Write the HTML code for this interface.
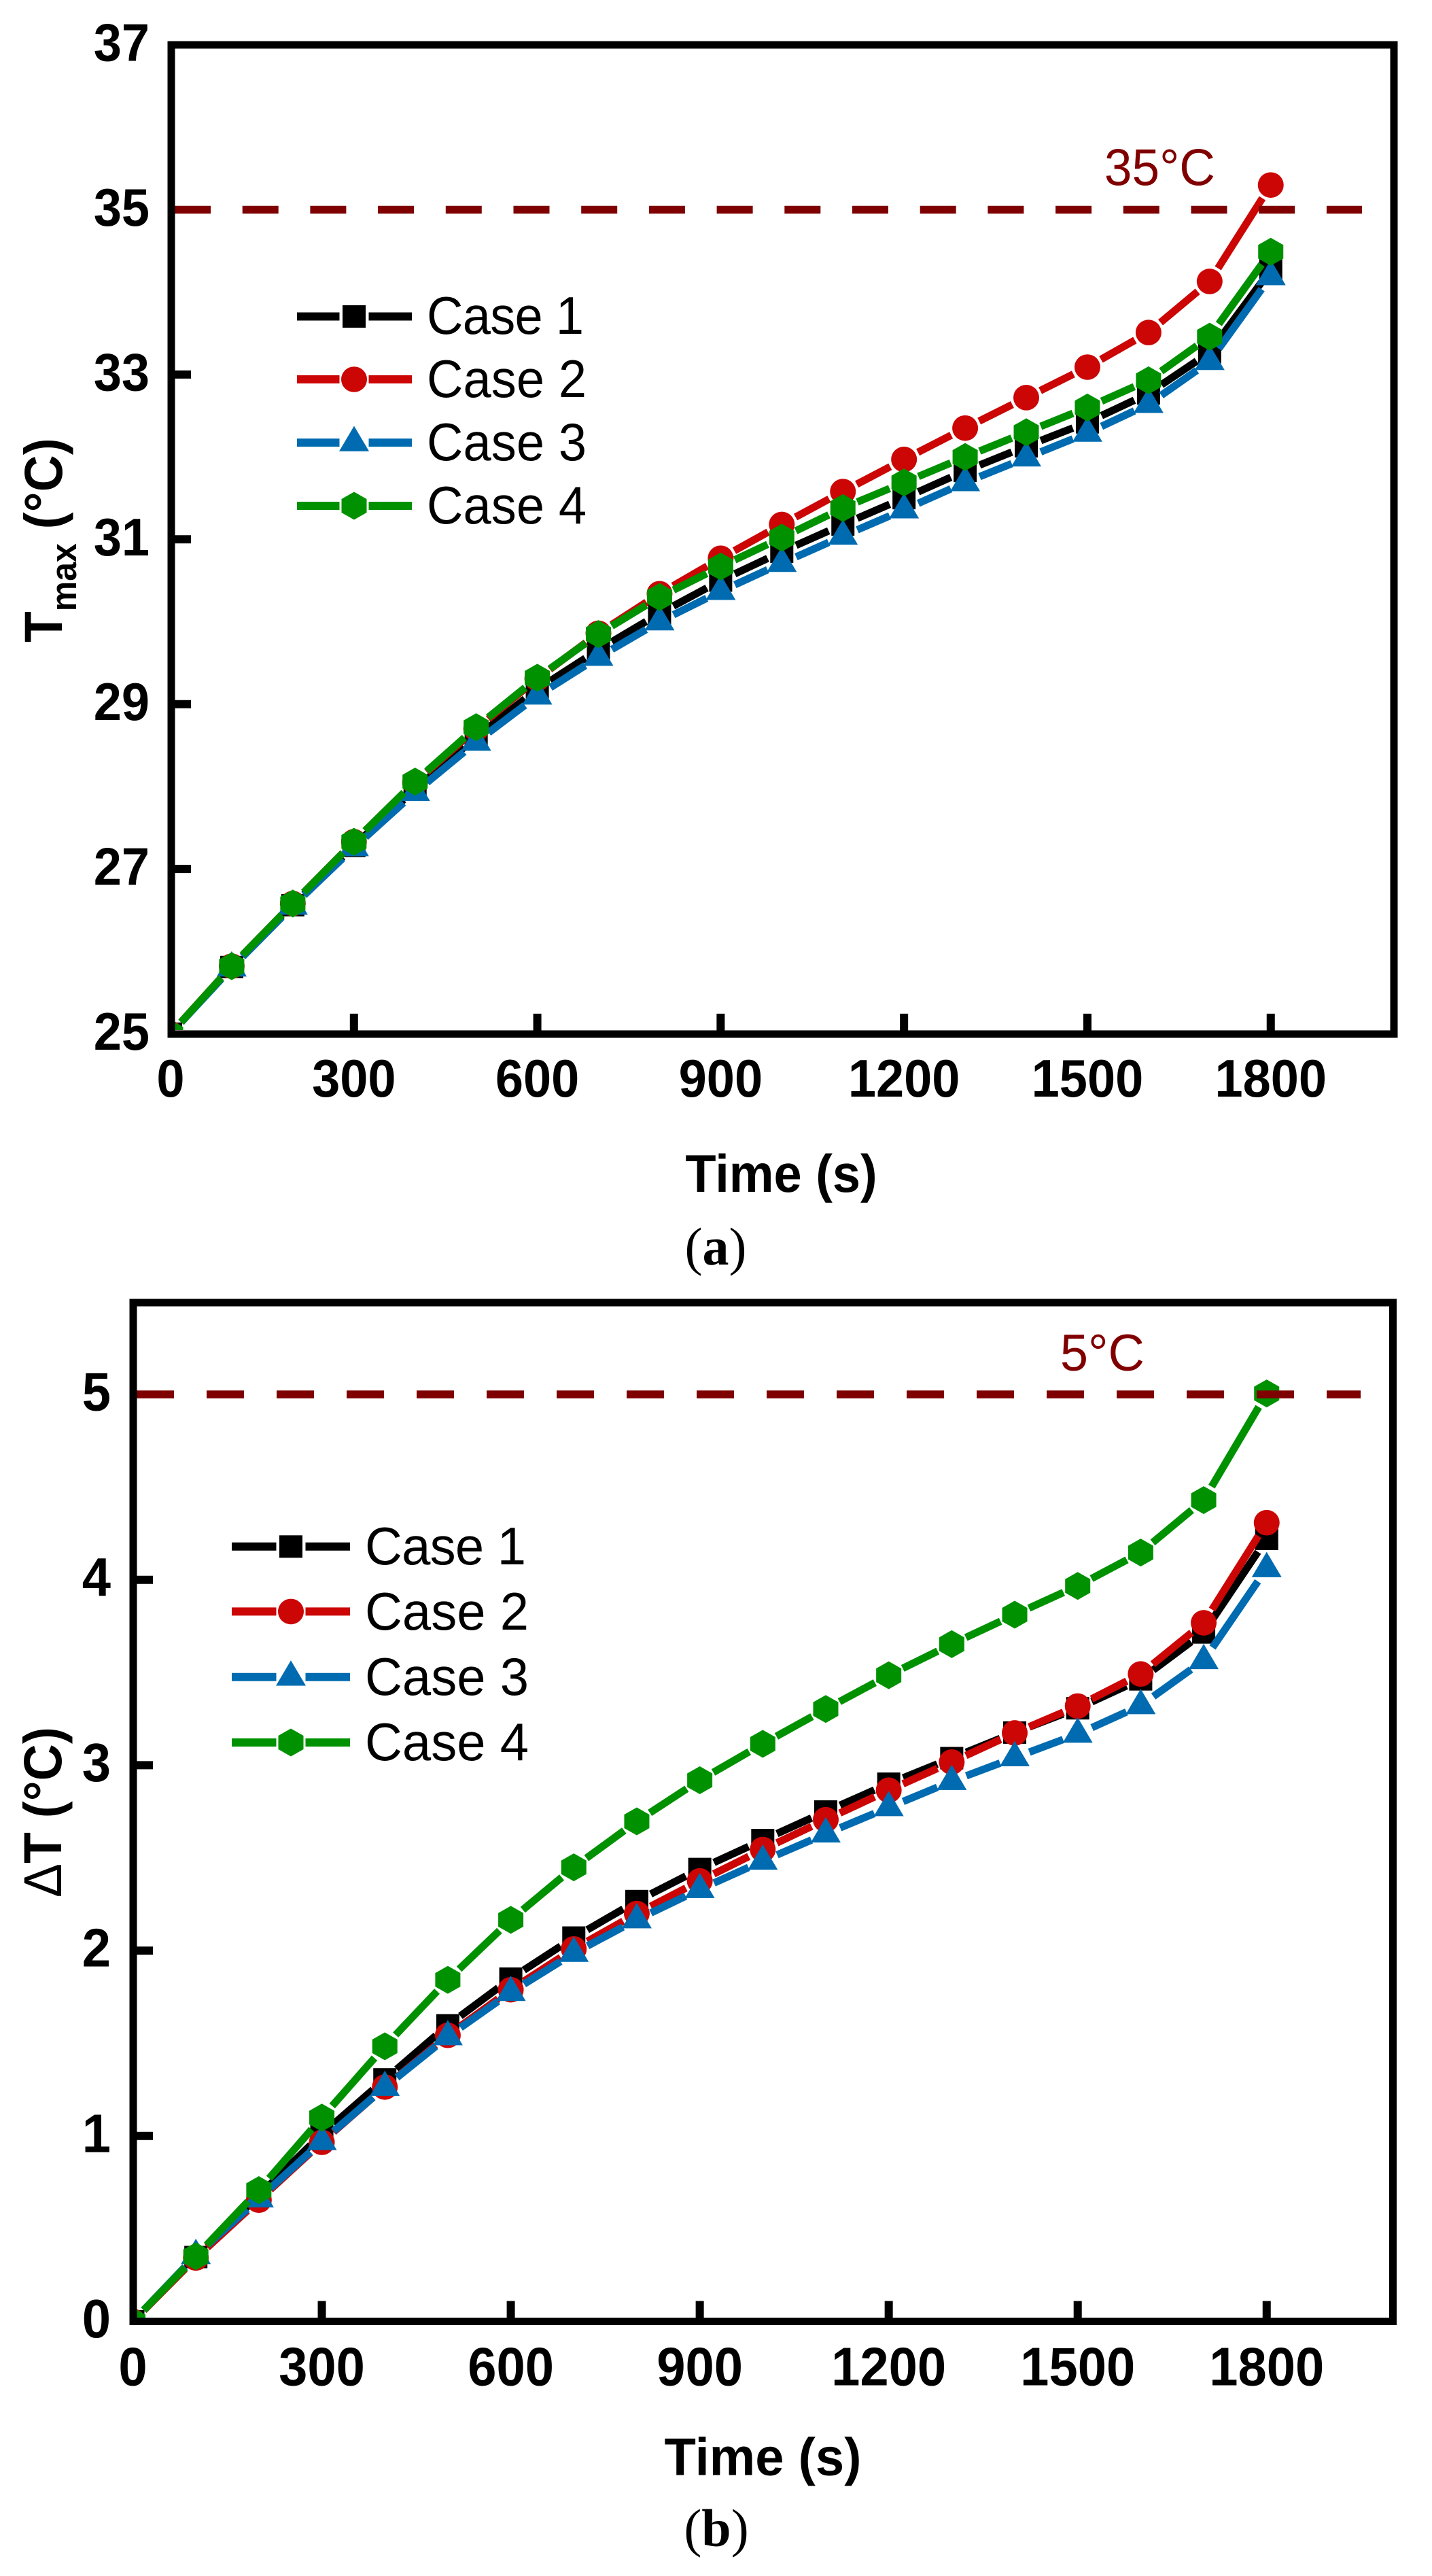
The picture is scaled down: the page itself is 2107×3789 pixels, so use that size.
<!DOCTYPE html>
<html lang="en">
<head>
<meta charset="utf-8">
<title>Tmax and delta T versus time for four cases</title>
<style>
html,body{margin:0;padding:0;background:#fff;}
svg{display:block;}
text{font-family:"Liberation Sans",Arial,sans-serif;fill:#000;}
.bold{font-weight:bold;}
.serif{font-family:"Liberation Serif","Times New Roman",serif;}
.limit{fill:#800000;}
</style>
</head>
<body>
<svg id="figure" xmlns="http://www.w3.org/2000/svg" width="2107" height="3789" viewBox="0 0 2107 3789">
  <rect x="0" y="0" width="2107" height="3789" fill="#ffffff"/>
  <defs>
    <clipPath id="clip-a"><rect x="257" y="72" width="1789" height="1443"/></clipPath>
    <clipPath id="clip-b"><rect x="201" y="1922" width="1843" height="1487"/></clipPath>
  </defs>

  <g id="chart-a"></g>
  <g id="chart-b"></g>

  <g>
    <text class="bold" font-size="74" text-anchor="middle" transform="translate(1149.5,1753) scale(1,1.05)">Time (s)</text>
    <text class="bold" font-size="75" transform="translate(91,945) rotate(-90) scale(1,1.05)">T<tspan font-size="50" dy="20">max</tspan><tspan dy="-20"> (°C)</tspan></text>
    <text class="limit" font-size="73" text-anchor="end" transform="translate(1788,272.6) scale(1,1.04)">35°C</text>
    <text class="serif" font-size="78" text-anchor="middle" x="1053" y="1860">(<tspan font-weight="bold">a</tspan>)</text>
    <g>
      <text font-size="74" textLength="231" transform="translate(628,491) scale(1,1.05)">Case 1</text>
      <text font-size="74" textLength="235" transform="translate(628,584) scale(1,1.05)">Case 2</text>
      <text font-size="74" textLength="235" transform="translate(628,677) scale(1,1.05)">Case 3</text>
      <text font-size="74" textLength="235" transform="translate(628,770) scale(1,1.05)">Case 4</text>
    </g>
  </g>

  <g>
    <text class="bold" font-size="76" text-anchor="middle" transform="translate(1122.5,3640.5) scale(1,1.03)">Time (s)</text>
    <text class="bold" font-size="75" transform="translate(90,2791) rotate(-90) scale(1,1.05)"><tspan font-weight="normal">Δ</tspan>T (°C)</text>
    <text class="limit" font-size="74" text-anchor="end" transform="translate(1684,2015.8) scale(1,1.03)">5°C</text>
    <text class="serif" font-size="78" text-anchor="middle" x="1054" y="3745">(<tspan font-weight="bold">b</tspan>)</text>
    <g>
      <text font-size="76" textLength="237" transform="translate(537,2301) scale(1,1.03)">Case 1</text>
      <text font-size="76" textLength="241" transform="translate(537,2397) scale(1,1.03)">Case 2</text>
      <text font-size="76" textLength="241" transform="translate(537,2493) scale(1,1.03)">Case 3</text>
      <text font-size="76" textLength="241" transform="translate(537,2589) scale(1,1.03)">Case 4</text>
    </g>
  </g>
</svg>

<script>
// ---- shared data ----
const times = [0,100,200,300,400,500,600,700,800,900,1000,1100,1200,1300,1400,1500,1600,1700,1800];
const seriesNames = ['case-1','case-2','case-3','case-4'];
const xTickValues = [300,600,900,1200,1500,1800];
const xTickLabels = ['0','300','600','900','1200','1500','1800'];

// ---- panel (a) Tmax, deg C ----
const tmaxCase1 = [25,25.81,26.56,27.28,27.97,28.60,29.18,29.66,30.10,30.50,30.85,31.18,31.50,31.83,32.13,32.42,32.77,33.27,34.27];
const tmaxCase2 = [25,25.82,26.58,27.33,28.05,28.70,29.31,29.86,30.34,30.77,31.18,31.58,31.97,32.35,32.72,33.09,33.51,34.13,35.30];
const tmaxCase3 = [25,25.80,26.55,27.26,27.93,28.54,29.10,29.57,30.00,30.37,30.71,31.04,31.36,31.69,31.99,32.29,32.64,33.16,34.19];
const tmaxCase4 = [25,25.82,26.58,27.33,28.06,28.72,29.32,29.85,30.30,30.67,31.02,31.38,31.69,32.00,32.30,32.60,32.93,33.46,34.49];
const tmaxTickMarks = [27,29,31,33];
const tmaxTickLabels = ['25','27','29','31','33','35','37'];
const tmaxLimit = 35;

// ---- panel (b) delta T, deg C ----
const deltaCase1 = [0,0.347,0.68,1.01,1.305,1.597,1.849,2.07,2.267,2.44,2.596,2.75,2.90,3.038,3.176,3.307,3.463,3.716,4.221];
const deltaCase2 = [0,0.342,0.654,0.966,1.264,1.543,1.789,2.009,2.20,2.376,2.545,2.706,2.865,3.017,3.174,3.319,3.492,3.768,4.308];
const deltaCase3 = [0,0.356,0.662,0.971,1.263,1.536,1.775,1.986,2.167,2.33,2.483,2.63,2.772,2.913,3.041,3.168,3.322,3.565,4.061];
const deltaCase4 = [0,0.351,0.708,1.099,1.484,1.842,2.166,2.449,2.697,2.919,3.115,3.303,3.485,3.653,3.812,3.967,4.147,4.43,5.005];
const deltaTickMarks = [1,2,3,4];
const deltaTickLabels = ['0','1','2','3','4','5'];
const deltaLimit = 5;

const NS = 'http://www.w3.org/2000/svg';
const COLORS = ['#000000','#cc0505','#006bb0','#009100'];
const KINDS = ['square','circle','triangle','hexagon'];
const GAP = 23;

function svgEl(tag, attrs, parent) {
  const el = document.createElementNS(NS, tag);
  for (const k in attrs) el.setAttribute(k, attrs[k]);
  parent.appendChild(el);
  return el;
}

function drawMarker(parent, kind, cx, cy, color, name) {
  let el;
  if (kind === 'square') {
    el = svgEl('rect', {x: cx - 17, y: cy - 16.5, width: 34, height: 33, fill: color}, parent);
  } else if (kind === 'circle') {
    el = svgEl('ellipse', {cx: cx, cy: cy, rx: 19, ry: 18.8, fill: color}, parent);
  } else if (kind === 'triangle') {
    el = svgEl('polygon', {points: (cx - 22) + ',' + (cy + 12.8) + ' ' + (cx + 22) + ',' + (cy + 12.8) + ' ' + cx + ',' + (cy - 24.5), fill: color}, parent);
  } else {
    el = svgEl('polygon', {points: cx + ',' + (cy - 20.5) + ' ' + (cx + 18.5) + ',' + (cy - 10) + ' ' + (cx + 18.5) + ',' + (cy + 10) + ' ' + cx + ',' + (cy + 20.5) + ' ' + (cx - 18.5) + ',' + (cy + 10) + ' ' + (cx - 18.5) + ',' + (cy - 10), fill: color}, parent);
  }
  
  
  return el;
}

function drawPanel(root, cfg) {
  const xPos = function (t) { return cfg.x0 + t * cfg.xScale; };
  const yPos = function (v) { return cfg.y0 - (v - cfg.vMin) * cfg.yScale; };

  // series, clipped to the plot area
  const plot = svgEl('g', {'clip-path': 'url(#' + cfg.clip + ')'}, root);
  
  

  cfg.series.forEach(function (values, s) {
    const group = svgEl('g', {}, plot);
    
    
    for (let i = 0; i < values.length - 1; i++) {
      const ax = xPos(times[i]), ay = yPos(values[i]);
      const bx = xPos(times[i + 1]), by = yPos(values[i + 1]);
      const len = Math.hypot(bx - ax, by - ay);
      if (len <= GAP * 2) continue;
      const ux = (bx - ax) / len, uy = (by - ay) / len;
      const seg = svgEl('line', {x1: ax + ux * GAP, y1: ay + uy * GAP, x2: bx - ux * GAP, y2: by - uy * GAP, stroke: COLORS[s], 'stroke-width': 11}, group);
      
      
    }
    values.forEach(function (v, i) {
      drawMarker(group, KINDS[s], xPos(times[i]), yPos(v), COLORS[s], 'point-' + seriesNames[s] + '-t' + times[i]);
    });
  });

  // limit dashed line
  const limitY = yPos(cfg.limit);
  const limitLine = svgEl('line', {x1: cfg.frameL + 5, y1: limitY, x2: cfg.dashEnd, y2: limitY, stroke: '#7f0000', 'stroke-width': 11.5, 'stroke-dasharray': cfg.dash}, root);
  
  

  // inward tick marks
  xTickValues.forEach(function (t) {
    const tick = svgEl('line', {x1: xPos(t), y1: cfg.frameB, x2: xPos(t), y2: cfg.frameB - 30, stroke: '#000', 'stroke-width': 12}, root);
    
    
  });
  cfg.yTicks.forEach(function (v) {
    const tick = svgEl('line', {x1: cfg.frameL, y1: yPos(v), x2: cfg.frameL + 29, y2: yPos(v), stroke: '#000', 'stroke-width': 12}, root);
    
    
  });

  // frame
  const frame = svgEl('rect', {x: cfg.frameL, y: cfg.frameT, width: cfg.frameR - cfg.frameL, height: cfg.frameB - cfg.frameT, fill: 'none', stroke: '#000', 'stroke-width': 11}, root);
  
  

  // tick labels
  xTickLabels.forEach(function (label) {
    const lab = svgEl('text', {'class': 'bold', 'font-size': cfg.tickFont, 'text-anchor': 'middle', transform: 'translate(' + xPos(Number(label)) + ',' + cfg.xLabelY + ') scale(1,1.05)'}, root);
    lab.textContent = label;
    
    
  });
  cfg.yLabels.forEach(function (label) {
    const lab = svgEl('text', {'class': 'bold', 'font-size': cfg.tickFont, 'text-anchor': 'end', transform: 'translate(' + cfg.yLabelX + ',' + (yPos(Number(label)) + 23.5) + ') scale(1,1.05)'}, root);
    lab.textContent = label;
    
    
  });

  // legend swatches
  cfg.legendY.forEach(function (ly, s) {
    const left = svgEl('line', {x1: cfg.legendL, y1: ly, x2: cfg.legendM - 21.5, y2: ly, stroke: COLORS[s], 'stroke-width': 12}, root);
    
    
    const right = svgEl('line', {x1: cfg.legendM + 21.5, y1: ly, x2: cfg.legendR, y2: ly, stroke: COLORS[s], 'stroke-width': 12}, root);
    
    
    drawMarker(root, KINDS[s], cfg.legendM, ly, COLORS[s], 'legend-marker-' + seriesNames[s]);
  });
}

drawPanel(document.getElementById('chart-a'), {
  series: [tmaxCase1, tmaxCase2, tmaxCase3, tmaxCase4],
  limit: tmaxLimit, yTicks: tmaxTickMarks, yLabels: tmaxTickLabels,
  x0: 251, xScale: 0.8993, y0: 1520.5, yScale: 121.2, vMin: 25,
  frameL: 252, frameR: 2051, frameT: 66, frameB: 1521,
  clip: 'clip-a', dash: '53 46.7', dashEnd: 2004,
  tickFont: 74, xLabelY: 1613, yLabelX: 220,
  legendY: [465.5, 558, 651, 744], legendL: 437, legendM: 521, legendR: 606
});

drawPanel(document.getElementById('chart-b'), {
  series: [deltaCase1, deltaCase2, deltaCase3, deltaCase4],
  limit: deltaLimit, yTicks: deltaTickMarks, yLabels: deltaTickLabels,
  x0: 195.5, xScale: 0.9268, y0: 3414.5, yScale: 272.7, vMin: 0,
  frameL: 196, frameR: 2049.5, frameT: 1916, frameB: 3414.5,
  clip: 'clip-b', dash: '55 48', dashEnd: 2002,
  tickFont: 76, xLabelY: 3508.7, yLabelX: 163,
  legendY: [2274.8, 2370.4, 2466.7, 2563], legendL: 341, legendM: 428, legendR: 515
});
</script>
</body>
</html>
